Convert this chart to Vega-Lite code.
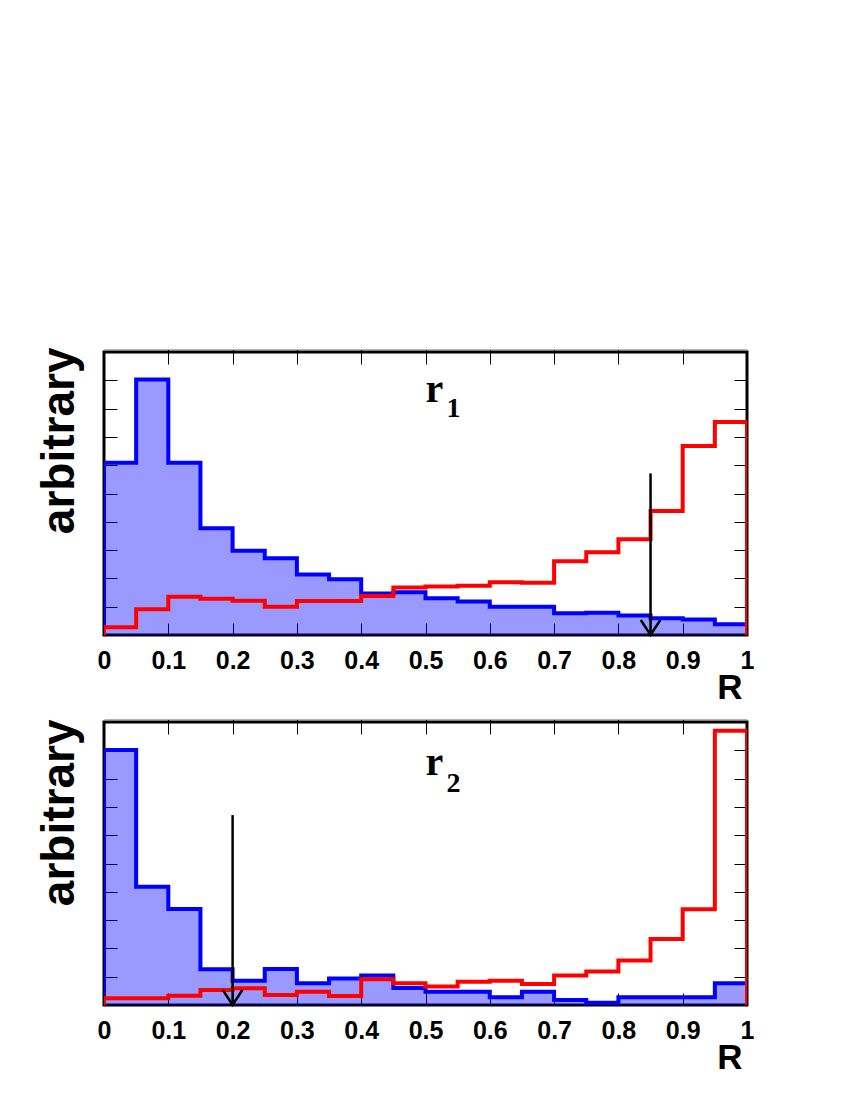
{
  "$schema": "https://vega.github.io/schema/vega-lite/v6.json",
  "padding": {"left": 34, "top": 345, "right": 5, "bottom": 5},
  "background": "white",
  "spacing": 87,
  "bounds": "flush",
  "config": {
    "view": {"stroke": "black", "strokeWidth": 3},
    "axis": {"grid": false, "domain": false, "tickColor": "black", "tickWidth": 1, "labelColor": "black", "titleColor": "black"}
  },
  "datasets": {
    "hist": [
      {"panel": "r1", "series": "bkg", "lo": -0.05, "v": 0},
      {"panel": "r1", "series": "bkg", "lo": 0.0, "v": 6.09},
      {"panel": "r1", "series": "bkg", "lo": 0.05, "v": 9.03},
      {"panel": "r1", "series": "bkg", "lo": 0.1, "v": 6.09},
      {"panel": "r1", "series": "bkg", "lo": 0.15, "v": 3.77},
      {"panel": "r1", "series": "bkg", "lo": 0.2, "v": 2.98},
      {"panel": "r1", "series": "bkg", "lo": 0.25, "v": 2.71},
      {"panel": "r1", "series": "bkg", "lo": 0.3, "v": 2.14},
      {"panel": "r1", "series": "bkg", "lo": 0.35, "v": 1.97},
      {"panel": "r1", "series": "bkg", "lo": 0.4, "v": 1.47},
      {"panel": "r1", "series": "bkg", "lo": 0.45, "v": 1.51},
      {"panel": "r1", "series": "bkg", "lo": 0.5, "v": 1.30},
      {"panel": "r1", "series": "bkg", "lo": 0.55, "v": 1.18},
      {"panel": "r1", "series": "bkg", "lo": 0.6, "v": 1.0},
      {"panel": "r1", "series": "bkg", "lo": 0.65, "v": 1.0},
      {"panel": "r1", "series": "bkg", "lo": 0.7, "v": 0.77},
      {"panel": "r1", "series": "bkg", "lo": 0.75, "v": 0.79},
      {"panel": "r1", "series": "bkg", "lo": 0.8, "v": 0.69},
      {"panel": "r1", "series": "bkg", "lo": 0.85, "v": 0.59},
      {"panel": "r1", "series": "bkg", "lo": 0.9, "v": 0.55},
      {"panel": "r1", "series": "bkg", "lo": 0.95, "v": 0.38},
      {"panel": "r1", "series": "bkg", "lo": 1.0, "v": 0},
      {"panel": "r1", "series": "sig", "lo": -0.05, "v": 0},
      {"panel": "r1", "series": "sig", "lo": 0.0, "v": 0.27},
      {"panel": "r1", "series": "sig", "lo": 0.05, "v": 0.91},
      {"panel": "r1", "series": "sig", "lo": 0.1, "v": 1.35},
      {"panel": "r1", "series": "sig", "lo": 0.15, "v": 1.28},
      {"panel": "r1", "series": "sig", "lo": 0.2, "v": 1.21},
      {"panel": "r1", "series": "sig", "lo": 0.25, "v": 1.0},
      {"panel": "r1", "series": "sig", "lo": 0.3, "v": 1.20},
      {"panel": "r1", "series": "sig", "lo": 0.35, "v": 1.20},
      {"panel": "r1", "series": "sig", "lo": 0.4, "v": 1.38},
      {"panel": "r1", "series": "sig", "lo": 0.45, "v": 1.68},
      {"panel": "r1", "series": "sig", "lo": 0.5, "v": 1.71},
      {"panel": "r1", "series": "sig", "lo": 0.55, "v": 1.74},
      {"panel": "r1", "series": "sig", "lo": 0.6, "v": 1.86},
      {"panel": "r1", "series": "sig", "lo": 0.65, "v": 1.85},
      {"panel": "r1", "series": "sig", "lo": 0.7, "v": 2.61},
      {"panel": "r1", "series": "sig", "lo": 0.75, "v": 2.92},
      {"panel": "r1", "series": "sig", "lo": 0.8, "v": 3.38},
      {"panel": "r1", "series": "sig", "lo": 0.85, "v": 4.38},
      {"panel": "r1", "series": "sig", "lo": 0.9, "v": 6.68},
      {"panel": "r1", "series": "sig", "lo": 0.95, "v": 7.53},
      {"panel": "r1", "series": "sig", "lo": 1.0, "v": 0},
      {"panel": "r2", "series": "bkg", "lo": -0.05, "v": 0},
      {"panel": "r2", "series": "bkg", "lo": 0.0, "v": 9.01},
      {"panel": "r2", "series": "bkg", "lo": 0.05, "v": 4.18},
      {"panel": "r2", "series": "bkg", "lo": 0.1, "v": 3.39},
      {"panel": "r2", "series": "bkg", "lo": 0.15, "v": 1.26},
      {"panel": "r2", "series": "bkg", "lo": 0.2, "v": 0.86},
      {"panel": "r2", "series": "bkg", "lo": 0.25, "v": 1.27},
      {"panel": "r2", "series": "bkg", "lo": 0.3, "v": 0.77},
      {"panel": "r2", "series": "bkg", "lo": 0.35, "v": 0.94},
      {"panel": "r2", "series": "bkg", "lo": 0.4, "v": 1.04},
      {"panel": "r2", "series": "bkg", "lo": 0.45, "v": 0.60},
      {"panel": "r2", "series": "bkg", "lo": 0.5, "v": 0.47},
      {"panel": "r2", "series": "bkg", "lo": 0.55, "v": 0.47},
      {"panel": "r2", "series": "bkg", "lo": 0.6, "v": 0.27},
      {"panel": "r2", "series": "bkg", "lo": 0.65, "v": 0.47},
      {"panel": "r2", "series": "bkg", "lo": 0.7, "v": 0.18},
      {"panel": "r2", "series": "bkg", "lo": 0.75, "v": 0.08},
      {"panel": "r2", "series": "bkg", "lo": 0.8, "v": 0.27},
      {"panel": "r2", "series": "bkg", "lo": 0.85, "v": 0.27},
      {"panel": "r2", "series": "bkg", "lo": 0.9, "v": 0.27},
      {"panel": "r2", "series": "bkg", "lo": 0.95, "v": 0.77},
      {"panel": "r2", "series": "bkg", "lo": 1.0, "v": 0},
      {"panel": "r2", "series": "sig", "lo": -0.05, "v": 0},
      {"panel": "r2", "series": "sig", "lo": 0.0, "v": 0.24},
      {"panel": "r2", "series": "sig", "lo": 0.05, "v": 0.24},
      {"panel": "r2", "series": "sig", "lo": 0.1, "v": 0.33},
      {"panel": "r2", "series": "sig", "lo": 0.15, "v": 0.53},
      {"panel": "r2", "series": "sig", "lo": 0.2, "v": 0.59},
      {"panel": "r2", "series": "sig", "lo": 0.25, "v": 0.35},
      {"panel": "r2", "series": "sig", "lo": 0.3, "v": 0.47},
      {"panel": "r2", "series": "sig", "lo": 0.35, "v": 0.32},
      {"panel": "r2", "series": "sig", "lo": 0.4, "v": 0.91},
      {"panel": "r2", "series": "sig", "lo": 0.45, "v": 0.77},
      {"panel": "r2", "series": "sig", "lo": 0.5, "v": 0.65},
      {"panel": "r2", "series": "sig", "lo": 0.55, "v": 0.82},
      {"panel": "r2", "series": "sig", "lo": 0.6, "v": 0.86},
      {"panel": "r2", "series": "sig", "lo": 0.65, "v": 0.74},
      {"panel": "r2", "series": "sig", "lo": 0.7, "v": 1.04},
      {"panel": "r2", "series": "sig", "lo": 0.75, "v": 1.18},
      {"panel": "r2", "series": "sig", "lo": 0.8, "v": 1.57},
      {"panel": "r2", "series": "sig", "lo": 0.85, "v": 2.33},
      {"panel": "r2", "series": "sig", "lo": 0.9, "v": 3.38},
      {"panel": "r2", "series": "sig", "lo": 0.95, "v": 9.69},
      {"panel": "r2", "series": "sig", "lo": 1.0, "v": 0}
    ],
    "arrows": [
      {"panel": "r1", "x": 0.85, "top": 5.71},
      {"panel": "r2", "x": 0.2, "top": 6.71}
    ],
    "labels": [
      {"panel": "r1", "base": "r", "sub": "1", "x": 0.5, "y": 8.23},
      {"panel": "r2", "base": "r", "sub": "2", "x": 0.5, "y": 8.13}
    ]
  },
  "vconcat": [
    {
      "width": 643, "height": 283,
      "layer": [
        {
          "data": {"name": "hist"},
          "transform": [{"filter": "datum.panel === 'r1' && datum.series === 'bkg'"}],
          "mark": {"type": "area", "interpolate": "step-after", "color": "#0000ff", "opacity": 0.4, "clip": true},
          "encoding": {
            "x": {"field": "lo", "type": "quantitative", "scale": {"domain": [0, 1], "nice": false, "zero": false},
              "axis": {"orient": "bottom", "values": [0, 0.1, 0.2, 0.3, 0.4, 0.5, 0.6, 0.7, 0.8, 0.9, 1], "format": "~g", "tickSize": -12, "labelPadding": 25, "labelFont": "Liberation Sans", "labelFontWeight": "bold", "labelFontSize": 25, "labelFlush": false, "labelOverlap": false, "labelBound": false, "labelBaseline": "top",
                "title": "R", "titleFont": "Liberation Sans", "titleFontWeight": "bold", "titleFontSize": 35, "titleX": 638, "titleY": 63, "titleAlign": "right", "titleBaseline": "alphabetic", "titleAnchor": null}},
            "y": {"field": "v", "type": "quantitative", "scale": {"domain": [0, 10], "nice": false},
              "axis": {"orient": "left", "values": [1, 2, 3, 4, 5, 6, 7, 8, 9], "labels": false, "tickSize": -13,
                "title": "arbitrary", "titleFont": "Liberation Sans", "titleFontWeight": "bold", "titleFontSize": 46, "titleAngle": -90, "titleX": -31, "titleY": -5, "titleAlign": "right", "titleBaseline": "alphabetic", "titleAnchor": null}}
          }
        },
        {
          "data": {"name": "hist"},
          "transform": [{"filter": "datum.panel === 'r1' && datum.series === 'bkg'"}],
          "mark": {"type": "line", "interpolate": "step-after", "color": "#0000ff", "strokeWidth": 4, "clip": true},
          "encoding": {
            "x": {"field": "lo", "type": "quantitative", "axis": {"orient": "top", "values": [0.1, 0.2, 0.3, 0.4, 0.5, 0.6, 0.7, 0.8, 0.9], "labels": false, "title": null, "tickSize": -15, "offset": 3, "domain": true, "domainColor": "#b4b4b4", "domainWidth": 1}},
            "y": {"field": "v", "type": "quantitative", "axis": {"orient": "right", "values": [1, 2, 3, 4, 5, 6, 7, 8, 9], "labels": false, "title": null, "tickSize": -13}}
          }
        },
        {
          "data": {"name": "hist"},
          "transform": [{"filter": "datum.panel === 'r1' && datum.series === 'sig'"}],
          "mark": {"type": "line", "interpolate": "step-after", "color": "#ff0000", "strokeWidth": 4, "clip": true},
          "encoding": {
            "x": {"field": "lo", "type": "quantitative", "axis": null},
            "y": {"field": "v", "type": "quantitative", "axis": null}
          }
        },
        {
          "data": {"name": "arrows"},
          "transform": [{"filter": "datum.panel === 'r1'"}],
          "mark": {"type": "rule", "color": "black", "strokeWidth": 2.5},
          "encoding": {
            "x": {"field": "x", "type": "quantitative", "axis": null},
            "y": {"field": "top", "type": "quantitative", "axis": null},
            "y2": {"datum": 0}
          }
        },
        {
          "data": {"name": "arrows"},
          "transform": [{"filter": "datum.panel === 'r1'"}],
          "mark": {"type": "point", "shape": "M-0.65,-1L0,0L0.65,-1", "filled": false, "color": "black", "strokeWidth": 2.5, "size": 900, "opacity": 1},
          "encoding": {
            "x": {"field": "x", "type": "quantitative", "axis": null},
            "y": {"datum": 0, "type": "quantitative", "axis": null}
          }
        },
        {
          "data": {"name": "labels"},
          "transform": [{"filter": "datum.panel === 'r1'"}],
          "mark": {"type": "text", "font": "Liberation Serif", "fontWeight": "bold", "fontSize": 40, "align": "left", "baseline": "alphabetic", "color": "black"},
          "encoding": {
            "x": {"field": "x", "type": "quantitative", "axis": null},
            "y": {"field": "y", "type": "quantitative", "axis": null},
            "text": {"field": "base"}
          }
        },
        {
          "data": {"name": "labels"},
          "transform": [{"filter": "datum.panel === 'r1'"}],
          "mark": {"type": "text", "font": "Liberation Serif", "fontWeight": "bold", "fontSize": 28, "align": "left", "baseline": "alphabetic", "color": "black", "dx": 21, "dy": 15},
          "encoding": {
            "x": {"field": "x", "type": "quantitative", "axis": null},
            "y": {"field": "y", "type": "quantitative", "axis": null},
            "text": {"field": "sub"}
          }
        }
      ]
    },
    {
      "width": 643, "height": 283,
      "layer": [
        {
          "data": {"name": "hist"},
          "transform": [{"filter": "datum.panel === 'r2' && datum.series === 'bkg'"}],
          "mark": {"type": "area", "interpolate": "step-after", "color": "#0000ff", "opacity": 0.4, "clip": true},
          "encoding": {
            "x": {"field": "lo", "type": "quantitative", "scale": {"domain": [0, 1], "nice": false, "zero": false},
              "axis": {"orient": "bottom", "values": [0, 0.1, 0.2, 0.3, 0.4, 0.5, 0.6, 0.7, 0.8, 0.9, 1], "format": "~g", "tickSize": -12, "labelPadding": 25, "labelFont": "Liberation Sans", "labelFontWeight": "bold", "labelFontSize": 25, "labelFlush": false, "labelOverlap": false, "labelBound": false, "labelBaseline": "top",
                "title": "R", "titleFont": "Liberation Sans", "titleFontWeight": "bold", "titleFontSize": 35, "titleX": 638, "titleY": 63, "titleAlign": "right", "titleBaseline": "alphabetic", "titleAnchor": null}},
            "y": {"field": "v", "type": "quantitative", "scale": {"domain": [0, 10], "nice": false},
              "axis": {"orient": "left", "values": [1, 2, 3, 4, 5, 6, 7, 8, 9], "labels": false, "tickSize": -13,
                "title": "arbitrary", "titleFont": "Liberation Sans", "titleFontWeight": "bold", "titleFontSize": 46, "titleAngle": -90, "titleX": -31, "titleY": -3, "titleAlign": "right", "titleBaseline": "alphabetic", "titleAnchor": null}}
          }
        },
        {
          "data": {"name": "hist"},
          "transform": [{"filter": "datum.panel === 'r2' && datum.series === 'bkg'"}],
          "mark": {"type": "line", "interpolate": "step-after", "color": "#0000ff", "strokeWidth": 4, "clip": true},
          "encoding": {
            "x": {"field": "lo", "type": "quantitative", "axis": {"orient": "top", "values": [0.1, 0.2, 0.3, 0.4, 0.5, 0.6, 0.7, 0.8, 0.9], "labels": false, "title": null, "tickSize": -15, "offset": 3, "domain": true, "domainColor": "#b4b4b4", "domainWidth": 1}},
            "y": {"field": "v", "type": "quantitative", "axis": {"orient": "right", "values": [1, 2, 3, 4, 5, 6, 7, 8, 9], "labels": false, "title": null, "tickSize": -13}}
          }
        },
        {
          "data": {"name": "hist"},
          "transform": [{"filter": "datum.panel === 'r2' && datum.series === 'sig'"}],
          "mark": {"type": "line", "interpolate": "step-after", "color": "#ff0000", "strokeWidth": 4, "clip": true},
          "encoding": {
            "x": {"field": "lo", "type": "quantitative", "axis": null},
            "y": {"field": "v", "type": "quantitative", "axis": null}
          }
        },
        {
          "data": {"name": "arrows"},
          "transform": [{"filter": "datum.panel === 'r2'"}],
          "mark": {"type": "rule", "color": "black", "strokeWidth": 2.5},
          "encoding": {
            "x": {"field": "x", "type": "quantitative", "axis": null},
            "y": {"field": "top", "type": "quantitative", "axis": null},
            "y2": {"datum": 0}
          }
        },
        {
          "data": {"name": "arrows"},
          "transform": [{"filter": "datum.panel === 'r2'"}],
          "mark": {"type": "point", "shape": "M-0.65,-1L0,0L0.65,-1", "filled": false, "color": "black", "strokeWidth": 2.5, "size": 900, "opacity": 1},
          "encoding": {
            "x": {"field": "x", "type": "quantitative", "axis": null},
            "y": {"datum": 0, "type": "quantitative", "axis": null}
          }
        },
        {
          "data": {"name": "labels"},
          "transform": [{"filter": "datum.panel === 'r2'"}],
          "mark": {"type": "text", "font": "Liberation Serif", "fontWeight": "bold", "fontSize": 40, "align": "left", "baseline": "alphabetic", "color": "black"},
          "encoding": {
            "x": {"field": "x", "type": "quantitative", "axis": null},
            "y": {"field": "y", "type": "quantitative", "axis": null},
            "text": {"field": "base"}
          }
        },
        {
          "data": {"name": "labels"},
          "transform": [{"filter": "datum.panel === 'r2'"}],
          "mark": {"type": "text", "font": "Liberation Serif", "fontWeight": "bold", "fontSize": 28, "align": "left", "baseline": "alphabetic", "color": "black", "dx": 21, "dy": 17},
          "encoding": {
            "x": {"field": "x", "type": "quantitative", "axis": null},
            "y": {"field": "y", "type": "quantitative", "axis": null},
            "text": {"field": "sub"}
          }
        }
      ]
    }
  ]
}
